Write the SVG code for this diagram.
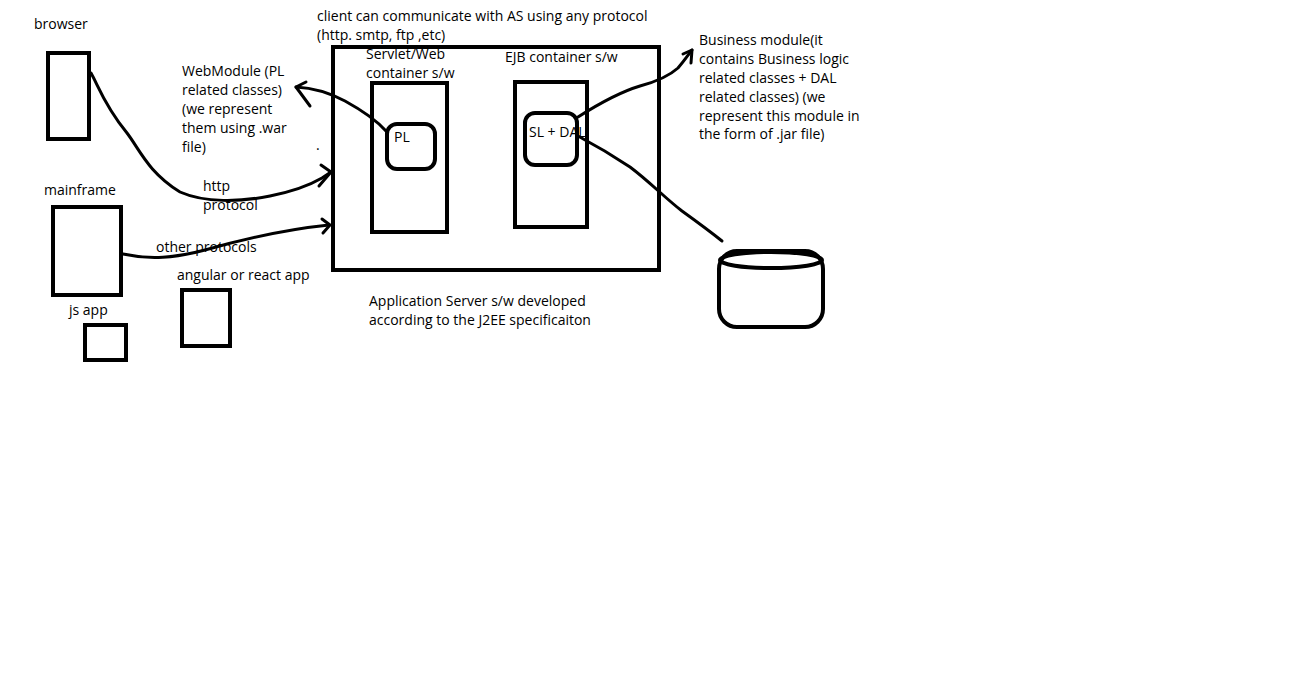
<svg xmlns="http://www.w3.org/2000/svg" width="1303" height="693" viewBox="0 0 1303 693">
<style>
text{font-family:"Open Sans","Noto Sans","Liberation Sans",sans-serif;font-size:14px;fill:#000}
.box{fill:none;stroke:#000;stroke-width:4}
.wire{fill:none;stroke:#000;stroke-width:3;stroke-linecap:round;stroke-linejoin:round}
</style>
<rect width="1303" height="693" fill="#fff"/>
<g id="browser">
<rect class="box" x="48" y="53" width="41" height="86"/>
<text x="34" y="29">browser</text>
</g>
<g id="mainframe">
<rect class="box" x="53" y="207" width="68" height="88"/>
<text x="44" y="195">mainframe</text>
</g>
<g id="jsapp">
<rect class="box" x="85" y="325" width="41" height="35"/>
<text x="69" y="315">js app</text>
</g>
<g id="angular">
<rect class="box" x="182" y="290" width="48" height="56"/>
<text x="177" y="280">angular or react app</text>
</g>
<g id="appserver">
<rect class="box" x="333" y="47" width="326" height="223"/>
<text x="317" y="21">client can communicate with AS using any protocol</text>
<text x="317" y="40">(http. smtp, ftp ,etc)</text>
<text x="369" y="306">Application Server s/w developed</text>
<text x="369" y="325">according to the J2EE specificaiton</text>
</g>
<g id="servlet">
<rect class="box" x="372" y="83" width="75" height="149"/>
<text x="366" y="59">Servlet/Web</text>
<text x="366" y="78">container s/w</text>
</g>
<g id="pl">
<rect class="box" x="387" y="124" width="48" height="45" rx="10"/>
<text x="394" y="142">PL</text>
</g>
<g id="ejb">
<rect class="box" x="515" y="82" width="72" height="145"/>
<text x="505" y="62">EJB container s/w</text>
</g>
<g id="sl">
<rect class="box" x="525" y="113" width="52" height="52" rx="10"/>
<text x="529" y="137">SL + DAL</text>
</g>
<g id="database">
<rect class="box" x="719" y="251" width="104" height="76" rx="18"/>
<ellipse class="box" cx="771" cy="260" rx="51" ry="8"/>
</g>
<g id="webmodule">
<text x="182" y="76">WebModule (PL</text>
<text x="182" y="95">related classes)</text>
<text x="182" y="114">(we represent</text>
<text x="182" y="133">them using .war</text>
<text x="182" y="152">file)</text>
</g>
<g id="business">
<text x="699" y="45">Business module(it</text>
<text x="699" y="64">contains Business logic</text>
<text x="699" y="83">related classes + DAL</text>
<text x="699" y="102">related classes) (we</text>
<text x="699" y="121">represent this module in</text>
<text x="699" y="139">the form of .jar file)</text>
</g>
<g id="connectors">
<path class="wire" d="M91,73 C98,85 104,105 127,133 C140,150 148,172 180,192 C205,203 240,202 270,196 C295,191 310,185 322,178 L331,172"/>
<path class="wire" d="M321,165 L331,172 L319,186"/>
<text x="203" y="191">http</text>
<text x="203" y="210">protocol</text>
<path class="wire" d="M123,254 C150,260 175,258 205,250 C240,240 280,230 329,225"/>
<path class="wire" d="M322,219 L330,225 L323,233"/>
<text x="156" y="252">other protocols</text>
<path class="wire" d="M386,131 C378,122 365,112 345,101 C330,93 315,88 296,87"/>
<path class="wire" d="M306,82 L296,87 L310,106"/>
<path class="wire" d="M578,117 C600,103 620,92 640,86 C655,82 668,77 678,68 C685,60 688,55 692,50"/>
<path class="wire" d="M683,54 L692,50 L691,63"/>
<path class="wire" d="M578,136 C595,145 612,155 630,167 C650,182 665,198 682,211 C700,224 712,233 722,241"/>
<text x="316" y="150">.</text>
</g>
</svg>
